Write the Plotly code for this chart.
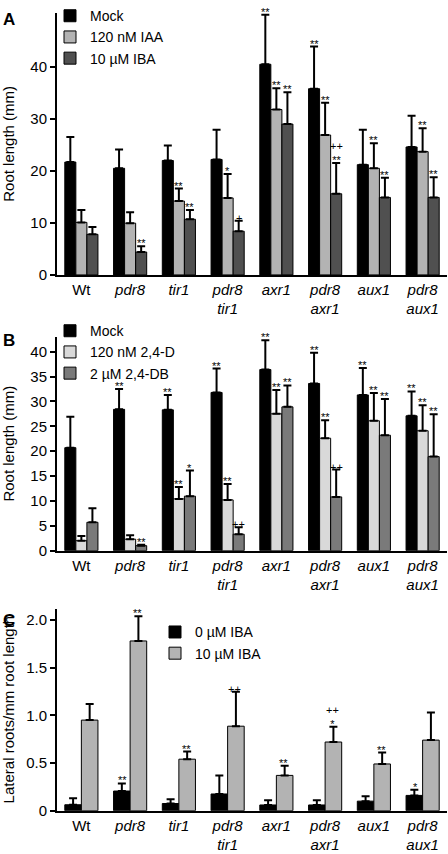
import plotly.graph_objects as go

categories = ["Wt", "pdr8", "tir1", "pdr8 tir1", "axr1", "pdr8 axr1", "aux1", "pdr8 aux1"]
cat_labels = ["Wt", "<i>pdr8</i>", "<i>tir1</i>", "<i>pdr8</i><br><i>tir1</i>", "<i>axr1</i>",
              "<i>pdr8</i><br><i>axr1</i>", "<i>aux1</i>", "<i>pdr8</i><br><i>aux1</i>"]

# Panel A: root length (mm)
a_mock = [21.7, 20.5, 22.0, 22.2, 40.5, 35.8, 21.2, 24.6]
a_mock_err = [4.8, 3.6, 2.9, 5.7, 9.5, 8.1, 6.7, 6.0]
a_iaa = [10.1, 9.95, 14.2, 14.8, 31.8, 26.9, 20.5, 23.7]
a_iaa_err = [2.4, 2.1, 2.4, 4.6, 4.1, 6.2, 4.8, 4.5]
a_iba = [7.8, 4.4, 10.7, 8.4, 29.0, 15.6, 14.9, 14.9]
a_iba_err = [1.4, 1.1, 1.8, 2.0, 6.1, 5.9, 3.8, 3.9]
a_mock_sig = ["", "", "", "", "**", "**", "", ""]
a_iaa_sig = ["", "", "**", "*", "**", "**", "**", "**"]
a_iba_sig = ["", "**", "**", "+", "**", "++<br>**", "**", "**"]

# Panel B: root length (mm)
b_mock = [20.7, 28.4, 28.3, 31.8, 36.4, 33.6, 31.3, 27.1]
b_mock_err = [6.2, 4.1, 3.0, 4.8, 5.9, 6.2, 5.4, 4.9]
b_d = [2.0, 2.3, 10.4, 10.2, 27.5, 22.6, 26.1, 24.1]
b_d_err = [0.95, 0.8, 2.4, 3.2, 4.8, 3.6, 5.6, 5.1]
b_db = [5.7, 1.0, 10.95, 3.3, 28.9, 10.8, 23.2, 18.9]
b_db_err = [2.8, 0.2, 5.15, 1.4, 4.3, 5.5, 7.3, 8.5]
b_mock_sig = ["", "**", "**", "**", "**", "**", "**", "**"]
b_d_sig = ["", "", "**", "**", "**", "**", "**", "**"]
b_db_sig = ["", "**", "*", "++", "**", "++", "**", "**"]

# Panel C: lateral roots / mm root length
c_0 = [0.062, 0.206, 0.075, 0.175, 0.06, 0.06, 0.10, 0.16]
c_0_err = [0.068, 0.08, 0.045, 0.195, 0.05, 0.05, 0.05, 0.06]
c_10 = [0.95, 1.78, 0.54, 0.886, 0.37, 0.72, 0.49, 0.74]
c_10_err = [0.17, 0.26, 0.08, 0.36, 0.10, 0.16, 0.12, 0.29]
c_0_sig = ["", "**", "", "", "", "", "", "*"]
c_10_sig = ["", "**", "**", "++", "**", "++<br>*", "**", ""]

FONT = "Arial, Liberation Sans, sans-serif"
W, H = 448, 854

fig = go.Figure()

def add_bar(x, y, err, name, color, xa, ya, legend):
    fig.add_trace(go.Bar(
        x=x, y=y, name=name, xaxis=xa, yaxis=ya, legend=legend,
        marker=dict(color=color, line=dict(color="black", width=1)),
        error_y=dict(type="data", array=err, arrayminus=[0] * len(err), symmetric=False,
                     color="black", thickness=2, width=4),
        cliponaxis=False,
    ))

add_bar(categories, a_mock, a_mock_err, "Mock", "#000000", "x", "y", "legend")
add_bar(categories, a_iaa, a_iaa_err, "120 nM IAA", "#b3b3b3", "x", "y", "legend")
add_bar(categories, a_iba, a_iba_err, "10 µM IBA", "#505050", "x", "y", "legend")

add_bar(categories, b_mock, b_mock_err, "Mock", "#000000", "x2", "y2", "legend2")
add_bar(categories, b_d, b_d_err, "120 nM 2,4-D", "#d9d9d9", "x2", "y2", "legend2")
add_bar(categories, b_db, b_db_err, "2 µM 2,4-DB", "#7a7a7a", "x2", "y2", "legend2")

add_bar(categories, c_0, c_0_err, "0 µM IBA", "#000000", "x3", "y3", "legend3")
add_bar(categories, c_10, c_10_err, "10 µM IBA", "#b3b3b3", "x3", "y3", "legend3")

annotations = []

def add_sig(vals, errs, sigs, idx, n, gap, xref, yref):
    w = (1 - gap) / n
    off = -(1 - gap) / 2 + w * (idx + 0.5)
    for i, (v, e, s) in enumerate(zip(vals, errs, sigs)):
        if s:
            annotations.append(dict(
                x=i + off, y=v + e, xref=xref, yref=yref, text=s, showarrow=False,
                yanchor="bottom", yshift=-5, font=dict(size=11, color="black", family=FONT),
            ))

GAP_AB = 0.32
GAP_C = 0.4
add_sig(a_mock, a_mock_err, a_mock_sig, 0, 3, GAP_AB, "x", "y")
add_sig(a_iaa, a_iaa_err, a_iaa_sig, 1, 3, GAP_AB, "x", "y")
add_sig(a_iba, a_iba_err, a_iba_sig, 2, 3, GAP_AB, "x", "y")
add_sig(b_mock, b_mock_err, b_mock_sig, 0, 3, GAP_AB, "x2", "y2")
add_sig(b_d, b_d_err, b_d_sig, 1, 3, GAP_AB, "x2", "y2")
add_sig(b_db, b_db_err, b_db_sig, 2, 3, GAP_AB, "x2", "y2")
add_sig(c_0, c_0_err, c_0_sig, 0, 2, GAP_C, "x3", "y3")
add_sig(c_10, c_10_err, c_10_sig, 1, 2, GAP_C, "x3", "y3")

for letter, ypx in [("A", 12), ("B", 339), ("C", 624)]:
    annotations.append(dict(
        x=1 / W, y=1 - ypx / H, xref="paper", yref="paper", text="<b>%s</b>" % letter,
        showarrow=False, xanchor="left", yanchor="middle",
        font=dict(size=17, color="black", family=FONT),
    ))

def ydom(bottom_px, top_px):
    return [1 - bottom_px / H, 1 - top_px / H]

xdom = [57 / W, 447 / W]

xcommon = dict(
    showline=True, linecolor="black", linewidth=2, ticks="", showgrid=False, zeroline=False,
    tickmode="array", tickvals=categories, ticktext=cat_labels,
    tickfont=dict(size=15, color="black", family=FONT), domain=xdom,
    categoryorder="array", categoryarray=categories,
)
ycommon = dict(
    showline=True, linecolor="black", linewidth=2, ticks="outside", ticklen=5, tickwidth=1.5,
    tickcolor="black", showgrid=False, zeroline=False,
    tickfont=dict(size=15, color="black", family=FONT),
    title_font=dict(size=15, color="black", family=FONT),
)

A_TOP = 50.4
LEG_FONT = dict(size=14, color="black", family=FONT)
fig.update_layout(
    width=W, height=H, margin=dict(l=0, r=0, t=0, b=0),
    paper_bgcolor="white", plot_bgcolor="white",
    font=dict(family=FONT, color="black", size=15),
    barmode="group", bargap=GAP_AB, bargroupgap=0,
    showlegend=True,
    xaxis=dict(**xcommon, anchor="y"),
    xaxis2=dict(**xcommon, anchor="y2"),
    xaxis3=dict(**xcommon, anchor="y3"),
    yaxis=dict(**ycommon, anchor="x", domain=ydom(272, 272 - A_TOP * 5.3), range=[0, A_TOP],
               tickvals=[0, 10, 20, 30, 40], title=dict(text="Root length (mm)", standoff=15)),
    yaxis2=dict(**ycommon, anchor="x2", domain=ydom(553, 335), range=[0, 43],
                tickvals=[0, 5, 10, 15, 20, 25, 30, 35, 40], title=dict(text="Root length (mm)", standoff=15)),
    yaxis3=dict(**ycommon, anchor="x3", domain=ydom(818, 612), range=[0, 2.12],
                tickvals=[0, 0.5, 1.0, 1.5, 2.0], ticktext=["0", "0.5", "1.0", "1.5", "2.0"],
                title=dict(text="Lateral roots/mm root length", standoff=12)),
    legend=dict(x=50 / W, y=1 + 8 / H, xanchor="left", yanchor="top", bgcolor="rgba(0,0,0,0)",
                font=LEG_FONT, tracegroupgap=0),
    legend2=dict(x=50 / W, y=1 - 313 / H, xanchor="left", yanchor="top", bgcolor="rgba(0,0,0,0)",
                 font=LEG_FONT, tracegroupgap=0),
    legend3=dict(x=155 / W, y=1 - 620 / H, xanchor="left", yanchor="top", bgcolor="rgba(0,0,0,0)",
                 font=LEG_FONT, tracegroupgap=0),
    annotations=annotations,
)

fig.write_html(
    "out.html",
    config={"displayModeBar": False},
    post_script="document.body.style.margin='0';document.body.style.padding='0';"
                "document.body.style.overflow='hidden';",
)
